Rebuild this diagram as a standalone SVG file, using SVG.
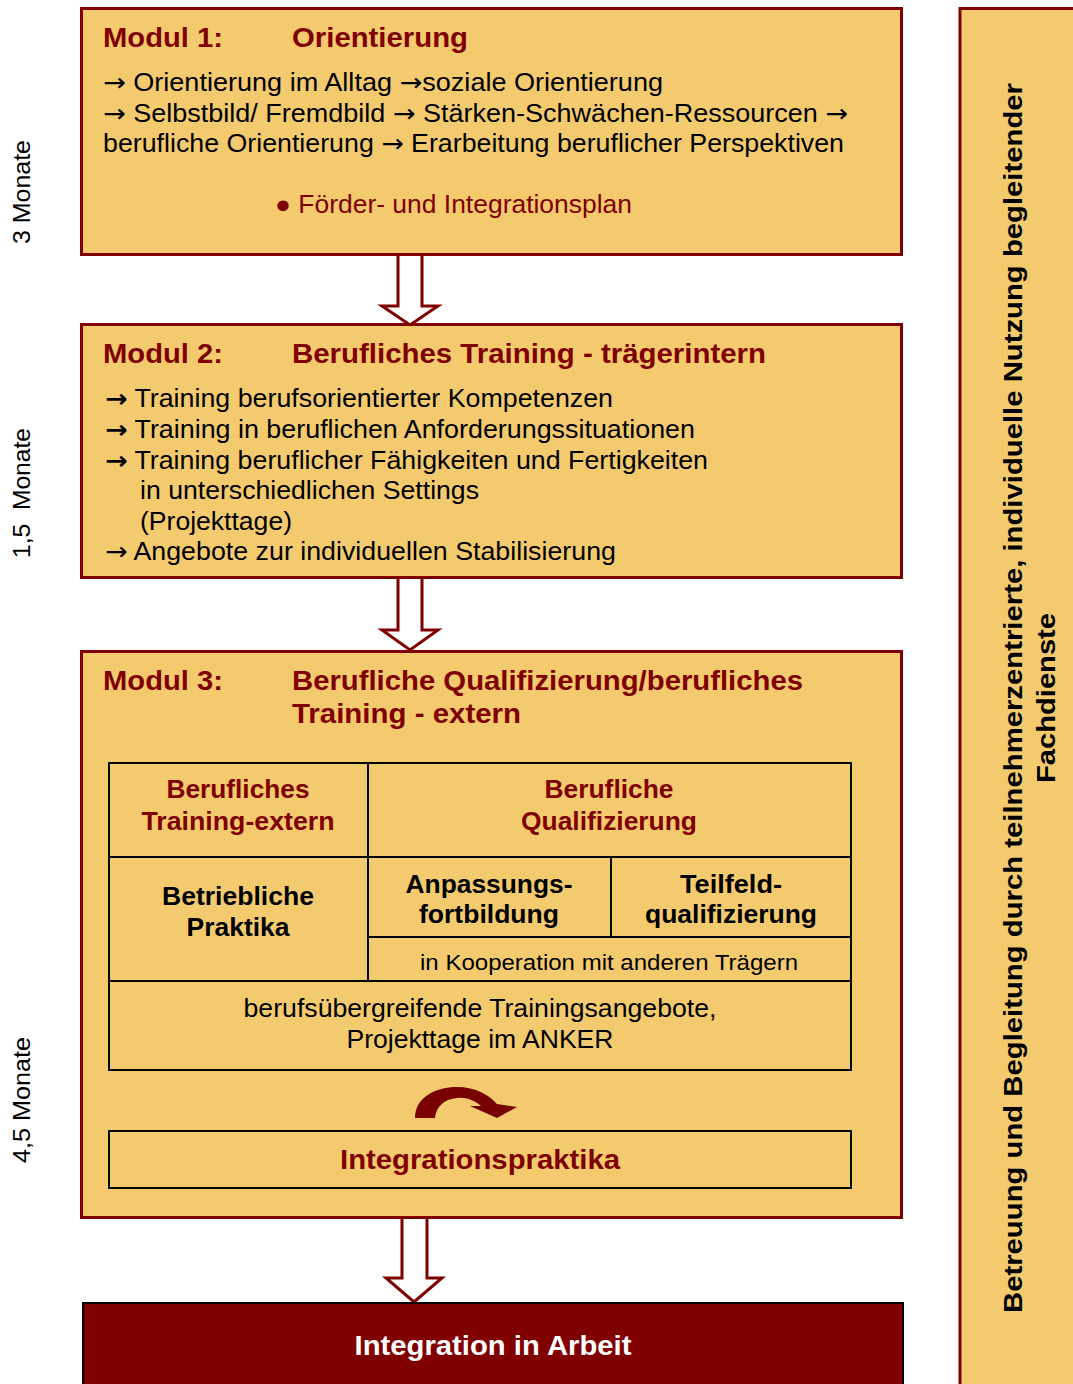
<svg xmlns="http://www.w3.org/2000/svg" width="1073" height="1384" viewBox="0 0 1073 1384">
<style>
.box{fill:#F3CB6E;stroke:#800000;stroke-width:3}
.cell{fill:none;stroke:#000;stroke-width:2}
.t{font-family:"Liberation Sans",Arial,sans-serif;}
.ar{font-family:"DejaVu Sans",sans-serif;}
.arb{font-family:"DejaVu Sans",sans-serif;font-weight:bold}
.title{font-size:27px;font-weight:bold;fill:#800000}
.body{font-size:25px;fill:#000}
.red{fill:#800000}
.bb{font-size:25px;font-weight:bold}
.mid{text-anchor:middle}
.side{font-size:24px;fill:#000}
.vert{font-size:26px;font-weight:bold;fill:#000;text-anchor:middle}
.harrow{fill:#fff;stroke:#800000;stroke-width:3;stroke-linejoin:miter}
</style>
<rect width="1073" height="1384" fill="#fff"/>

<g id="side-labels" class="t">
<text class="side mid" transform="translate(30,192) rotate(-90)" textLength="104" lengthAdjust="spacingAndGlyphs">3 Monate</text>
<text class="side mid" transform="translate(30,493) rotate(-90)" textLength="130" lengthAdjust="spacingAndGlyphs" xml:space="preserve">1,5  Monate</text>
<text class="side mid" transform="translate(30,1100) rotate(-90)" textLength="126" lengthAdjust="spacingAndGlyphs">4,5 Monate</text>
</g>

<g id="connectors">
<path class="harrow" d="M398,254 L398,306 L382,306 L410,325 L438,306 L422,306 L422,254"/>
<path class="harrow" d="M398,578 L398,630 L382,630 L410,650 L438,630 L422,630 L422,578"/>
<path class="harrow" d="M402,1219 L402,1278 L386,1278 L414,1302 L442,1278 L427,1278 L427,1219"/>
</g>

<g id="modul1">
<rect class="box" x="81.5" y="8.5" width="820" height="246"/>
<text class="t title" x="103" y="47" textLength="120" lengthAdjust="spacingAndGlyphs">Modul 1:</text>
<text class="t title" x="292" y="47" textLength="176" lengthAdjust="spacingAndGlyphs">Orientierung</text>
<text class="t body" x="103" y="91" textLength="560" lengthAdjust="spacingAndGlyphs"><tspan class="ar">→</tspan> Orientierung im Alltag <tspan class="ar">→</tspan>soziale Orientierung</text>
<text class="t body" x="103" y="122" textLength="745" lengthAdjust="spacingAndGlyphs"><tspan class="ar">→</tspan> Selbstbild/ Fremdbild <tspan class="ar">→</tspan> Stärken-Schwächen-Ressourcen <tspan class="ar">→</tspan></text>
<text class="t body" x="103" y="152" textLength="741" lengthAdjust="spacingAndGlyphs">berufliche Orientierung <tspan class="ar">→</tspan> Erarbeitung beruflicher Perspektiven</text>
<text class="t body red" x="275" y="213" textLength="357" lengthAdjust="spacingAndGlyphs">● Förder- und Integrationsplan</text>
</g>

<g id="modul2">
<rect class="box" x="81.5" y="324.5" width="820" height="253"/>
<text class="t title" x="103" y="363" textLength="120" lengthAdjust="spacingAndGlyphs">Modul 2:</text>
<text class="t title" x="292" y="363" textLength="474" lengthAdjust="spacingAndGlyphs">Berufliches Training - trägerintern</text>
<text class="t body" x="105" y="407" textLength="508" lengthAdjust="spacingAndGlyphs"><tspan class="arb">→</tspan> Training berufsorientierter Kompetenzen</text>
<text class="t body" x="105" y="438" textLength="590" lengthAdjust="spacingAndGlyphs"><tspan class="arb">→</tspan> Training in beruflichen Anforderungssituationen</text>
<text class="t body" x="105" y="469" textLength="603" lengthAdjust="spacingAndGlyphs"><tspan class="arb">→</tspan> Training beruflicher Fähigkeiten und Fertigkeiten</text>
<text class="t body" x="140" y="499" textLength="339" lengthAdjust="spacingAndGlyphs">in unterschiedlichen Settings</text>
<text class="t body" x="140" y="530" textLength="152" lengthAdjust="spacingAndGlyphs">(Projekttage)</text>
<text class="t body" x="105" y="560" textLength="511" lengthAdjust="spacingAndGlyphs"><tspan class="ar">→</tspan> Angebote zur individuellen Stabilisierung</text>
</g>

<g id="modul3">
<rect class="box" x="81.5" y="651.5" width="820" height="566"/>
<text class="t title" x="103" y="690" textLength="120" lengthAdjust="spacingAndGlyphs">Modul 3:</text>
<text class="t title" x="292" y="690" textLength="511" lengthAdjust="spacingAndGlyphs">Berufliche Qualifizierung/berufliches</text>
<text class="t title" x="292" y="723" textLength="229" lengthAdjust="spacingAndGlyphs">Training - extern</text>
</g>

<g id="table">
<rect class="cell" x="109" y="763" width="742" height="307"/>
<line class="cell" x1="109" y1="857" x2="851" y2="857"/>
<line class="cell" x1="368" y1="937" x2="851" y2="937"/>
<line class="cell" x1="109" y1="981" x2="851" y2="981"/>
<line class="cell" x1="368" y1="763" x2="368" y2="981"/>
<line class="cell" x1="611" y1="857" x2="611" y2="937"/>
</g>

<g id="cell-training-extern" class="t">
<text class="bb red mid" x="238" y="798" textLength="143" lengthAdjust="spacingAndGlyphs">Berufliches</text>
<text class="bb red mid" x="238" y="830" textLength="193" lengthAdjust="spacingAndGlyphs">Training-extern</text>
</g>
<g id="cell-qualifizierung" class="t">
<text class="bb red mid" x="609" y="798" textLength="129" lengthAdjust="spacingAndGlyphs">Berufliche</text>
<text class="bb red mid" x="609" y="830" textLength="176" lengthAdjust="spacingAndGlyphs">Qualifizierung</text>
</g>
<g id="cell-praktika" class="t">
<text class="bb mid" x="238" y="905" textLength="152" lengthAdjust="spacingAndGlyphs">Betriebliche</text>
<text class="bb mid" x="238" y="936" textLength="103" lengthAdjust="spacingAndGlyphs">Praktika</text>
</g>
<g id="cell-anpassung" class="t">
<text class="bb mid" x="489" y="893" textLength="167" lengthAdjust="spacingAndGlyphs">Anpassungs-</text>
<text class="bb mid" x="489" y="923" textLength="140" lengthAdjust="spacingAndGlyphs">fortbildung</text>
</g>
<g id="cell-teilfeld" class="t">
<text class="bb mid" x="731" y="893" textLength="102" lengthAdjust="spacingAndGlyphs">Teilfeld-</text>
<text class="bb mid" x="731" y="923" textLength="172" lengthAdjust="spacingAndGlyphs">qualifizierung</text>
</g>
<g id="cell-kooperation" class="t">
<text class="mid" x="609" y="970" font-size="22" textLength="378" lengthAdjust="spacingAndGlyphs">in Kooperation mit anderen Trägern</text>
</g>
<g id="cell-uebergreifend" class="t">
<text class="body mid" x="480" y="1017" textLength="473" lengthAdjust="spacingAndGlyphs">berufsübergreifende Trainingsangebote,</text>
<text class="body mid" x="480" y="1048" textLength="267" lengthAdjust="spacingAndGlyphs">Projekttage im ANKER</text>
</g>

<g id="curved-arrow">
<path fill="#780000" d="M415,1118 C415,1097 436,1087 457,1087 C476,1087 489,1095 497,1104 L517,1107 L497,1118 L470,1106 L481,1106 C474,1100 466,1097 457,1098 C445,1099 436,1106 435,1118 Z"/>
</g>

<g id="integrationspraktika">
<rect class="cell" x="109" y="1131" width="742" height="57"/>
<text class="t title mid" x="480" y="1169" textLength="280" lengthAdjust="spacingAndGlyphs">Integrationspraktika</text>
</g>

<g id="integration-arbeit">
<rect x="83" y="1303" width="820" height="90" fill="#800000" stroke="#000" stroke-width="2"/>
<text class="t mid" x="493" y="1355" font-size="27" font-weight="bold" fill="#fff" textLength="277" lengthAdjust="spacingAndGlyphs">Integration in Arbeit</text>
</g>

<g id="betreuung">
<rect class="box" x="960" y="8.5" width="200" height="1400"/>
<text class="t vert" transform="translate(1022,698) rotate(-90)" textLength="1230" lengthAdjust="spacingAndGlyphs">Betreuung und Begleitung durch teilnehmerzentrierte, individuelle Nutzung begleitender</text>
<text class="t vert" transform="translate(1055,698) rotate(-90)" textLength="170" lengthAdjust="spacingAndGlyphs">Fachdienste</text>
</g>
</svg>
